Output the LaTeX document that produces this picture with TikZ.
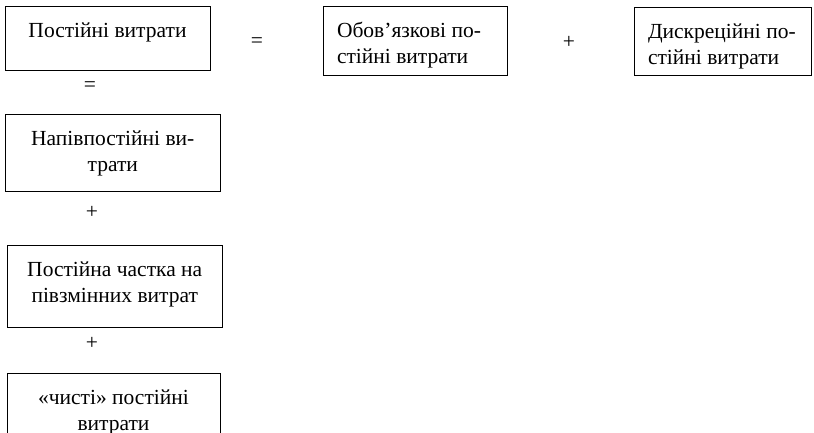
\documentclass[tikz,border=0pt]{standalone}
\usepackage{fontspec}
\setmainfont{Liberation Serif}
\newcommand{\boxtext}[4]{\parbox[c][#2][t]{#1}{\vspace*{13pt}#3\strut #4\par}}
\begin{document}
\begin{tikzpicture}[x=1pt,y=-1pt,
  box/.style={draw, line width=1pt, anchor=north west, inner sep=0pt, outer sep=0pt,
    font=\fontsize{21.5}{26}\selectfont},
  sign/.style={font=\fontsize{21.5}{26}\selectfont, inner sep=0pt}]
\clip (0,0) rectangle (814,432);
\node[box] (b1) at (5,6.5) {\boxtext{205pt}{63.5pt}{\centering}{Постійні витрати}};
\node[box] (b2) at (323,6) {\boxtext{184pt}{69pt}{\raggedright\leftskip=14pt}{Обов’язкові по-\\стійні витрати}};
\node[box] (b3) at (634,7) {\boxtext{177pt}{68pt}{\raggedright\leftskip=14pt}{Дискреційні по-\\стійні витрати}};
\node[box] (b4) at (5,114) {\boxtext{215.5pt}{77.5pt}{\centering}{Напівпостійні ви-\\трати}};
\node[box] (b5) at (7,245) {\boxtext{215.5pt}{82.5pt}{\centering}{Постійна частка на\\півзмінних витрат}};
\node[box] (b6) at (7,373) {\boxtext{213pt}{82pt}{\centering}{«чисті» постійні\\витрати}};
\node[sign] (e1) at (257,43) {=};
\node[sign] (e2) at (90,87) {=};
\node[sign] (p1) at (569,42) {+};
\node[sign] (p2) at (92,212) {+};
\node[sign] (p3) at (92,343) {+};
\end{tikzpicture}
\end{document}
